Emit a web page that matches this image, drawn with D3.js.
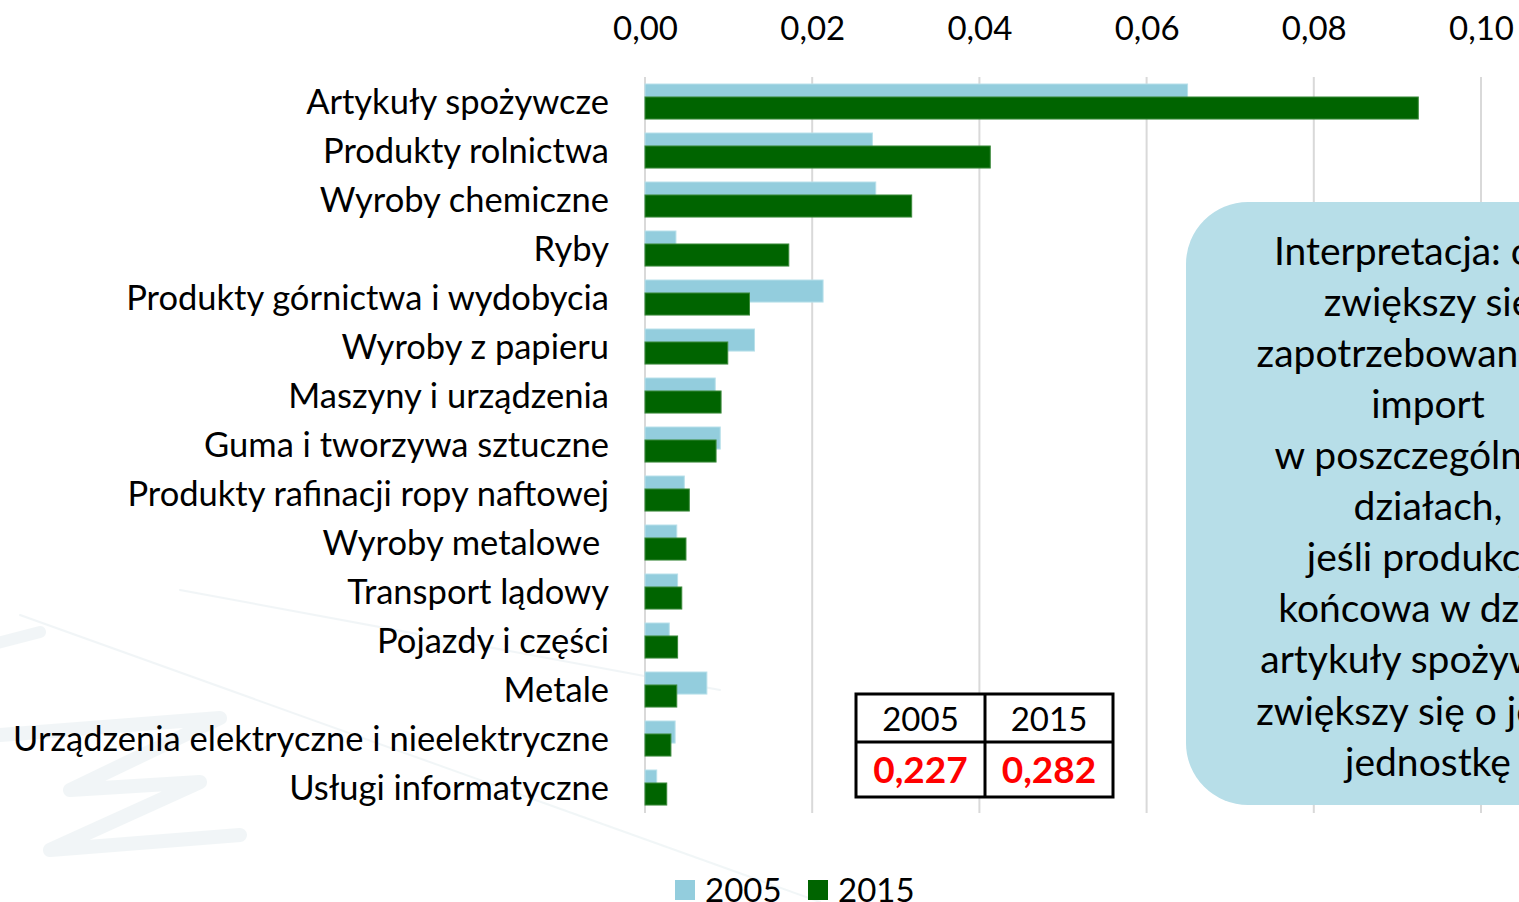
<!DOCTYPE html>
<html>
<head>
<meta charset="utf-8">
<script src="https://cdn.jsdelivr.net/npm/d3@7"></script>
<style>
  html, body { margin: 0; padding: 0; background: #fff; overflow: hidden; }
  svg { display: block; font-family: Lato, "Open Sans", sans-serif; }
</style>
</head>
<body>
<div id="chart"></div>
<script>
// categories from top to bottom
const categories = [
    "Artykuły spożywcze",
    "Produkty rolnictwa",
    "Wyroby chemiczne",
    "Ryby",
    "Produkty górnictwa i wydobycia",
    "Wyroby z papieru",
    "Maszyny i urządzenia",
    "Guma i tworzywa sztuczne",
    "Produkty rafinacji ropy naftowej",
    "Wyroby metalowe ",
    "Transport lądowy",
    "Pojazdy i części",
    "Metale",
    "Urządzenia elektryczne i nieelektryczne",
    "Usługi informatyczne"
];
const values2005 = [0.0649, 0.0272, 0.0276, 0.0037, 0.0213, 0.0131, 0.0084, 0.0090, 0.0047, 0.0038, 0.0039, 0.0029, 0.0074, 0.0036, 0.0014];
const values2015 = [0.0925, 0.0413, 0.0319, 0.0172, 0.0125, 0.0099, 0.0091, 0.0085, 0.0053, 0.0049, 0.0044, 0.0039, 0.0038, 0.0031, 0.0026];
const seriesNames = ["2005", "2015"];
const xTicks = [0, 0.02, 0.04, 0.06, 0.08, 0.10];
const totals = ["0,227", "0,282"];
const noteLines = [
    "Interpretacja: o ile",
    "zwiększy się",
    "zapotrzebowanie na",
    "import",
    "w poszczególnych",
    "działach,",
    "jeśli produkcja",
    "końcowa w dziale",
    "artykuły spożywcze",
    "zwiększy się o jedną",
    "jednostkę"
];

const width = 1519, height = 902;
const colors = { "2005": "#93cddd", "2015": "#006400" };
const fmt = d => d3.format(".2f")(d).replace(".", ",");

const svg = d3.select("#chart").append("svg")
    .attr("width", width)
    .attr("height", height);

// faint watermark in the lower left corner
const wm = svg.append("g")
    .attr("opacity", 0.12)
    .attr("stroke", "#8fb3bf")
    .attr("fill", "none")
    .attr("stroke-linecap", "round")
    .attr("stroke-linejoin", "round");
wm.append("path").attr("stroke-width", 12).attr("d", "M-10,645 L40,632");
wm.append("path").attr("stroke-width", 14).attr("d", "M0,735 L220,718 L70,790 L200,782 L50,850 L240,835");
wm.append("path").attr("stroke-width", 2).attr("d", "M20,615 L820,902");
wm.append("path").attr("stroke-width", 2).attr("d", "M180,590 L720,690");

const x = d3.scaleLinear().domain([0, 0.10]).range([645, 1481]);
const y = d3.scaleBand().domain(categories).range([77, 812]);
const bw = y.bandwidth();
const barH = bw * 0.45;
const offs = { "2005": bw * 0.143, "2015": bw * 0.408 };

// gridlines
svg.append("g").selectAll("line")
    .data(xTicks)
    .join("line")
    .attr("x1", d => x(d)).attr("x2", d => x(d))
    .attr("y1", 77).attr("y2", 813)
    .attr("stroke", "#d9d9d9")
    .attr("stroke-width", 2);

// top axis labels
const xAxis = svg.append("g")
    .attr("transform", "translate(0,28)")
    .call(d3.axisTop(x).tickValues(xTicks).tickFormat(fmt).tickSize(0).tickPadding(0));
xAxis.select(".domain").remove();
xAxis.selectAll("text")
    .attr("dy", "0.35em")
    .attr("font-size", 33)
    .attr("fill", "#000")
    .attr("font-family", "Lato, 'Open Sans', sans-serif");

// category labels
svg.append("g").selectAll("text")
    .data(categories)
    .join("text")
    .attr("x", 609)
    .attr("y", d => y(d) + bw / 2)
    .attr("dy", "0.35em")
    .attr("text-anchor", "end")
    .attr("font-size", 34.5)
    .style("white-space", "pre")
    .text(d => d);

// bars: 2005 first, 2015 overlapping on top
seriesNames.forEach(s => {
    const vals = s === "2005" ? values2005 : values2015;
    svg.append("g").selectAll("rect")
        .data(categories.map((c, i) => ({ c, v: vals[i] })))
        .join("rect")
        .attr("x", x(0))
        .attr("y", d => y(d.c) + offs[s])
        .attr("width", d => x(d.v) - x(0))
        .attr("height", barH)
        .attr("fill", colors[s])
        .attr("stroke", s === "2005" ? "#b8e0ea" : "#3c8a3c")
        .attr("stroke-width", 1);
});

// summary table
const tbl = svg.append("g");
const tx = [856, 985, 1113], ty = [694, 742, 797];
tbl.append("rect")
    .attr("x", tx[0]).attr("y", ty[0])
    .attr("width", tx[2] - tx[0]).attr("height", ty[2] - ty[0])
    .attr("fill", "#fff").attr("stroke", "#000").attr("stroke-width", 3);
tbl.append("line").attr("x1", tx[1]).attr("x2", tx[1]).attr("y1", ty[0]).attr("y2", ty[2])
    .attr("stroke", "#000").attr("stroke-width", 3);
tbl.append("line").attr("x1", tx[0]).attr("x2", tx[2]).attr("y1", ty[1]).attr("y2", ty[1])
    .attr("stroke", "#000").attr("stroke-width", 3);
seriesNames.forEach((s, i) => {
    const cx = (tx[i] + tx[i + 1]) / 2;
    tbl.append("text")
        .attr("x", cx).attr("y", (ty[0] + ty[1]) / 2 + 1)
        .attr("dy", "0.35em").attr("text-anchor", "middle")
        .attr("font-size", 33)
        .text(s);
    tbl.append("text")
        .attr("x", cx).attr("y", (ty[1] + ty[2]) / 2 + 1)
        .attr("dy", "0.35em").attr("text-anchor", "middle")
        .attr("font-size", 37).attr("font-weight", "bold")
        .attr("fill", "#ff0000")
        .text(totals[i]);
});

// interpretation note (runs past the right edge)
const note = svg.append("g");
note.append("rect")
    .attr("x", 1186).attr("y", 202)
    .attr("width", 484).attr("height", 603)
    .attr("rx", 62).attr("ry", 62)
    .attr("fill", "#b7dee8");
note.selectAll("text")
    .data(noteLines)
    .join("text")
    .attr("x", 1428)
    .attr("y", (d, i) => 251 + i * 51.1)
    .attr("dy", "0.35em")
    .attr("text-anchor", "middle")
    .attr("font-size", 39)
    .text(d => d);

// legend
const legend = svg.append("g");
const lx = [675, 808];
seriesNames.forEach((s, i) => {
    legend.append("rect")
        .attr("x", lx[i]).attr("y", 880)
        .attr("width", 20).attr("height", 20)
        .attr("fill", colors[s]);
    legend.append("text")
        .attr("x", lx[i] + 30).attr("y", 890)
        .attr("dy", "0.35em")
        .attr("font-size", 33)
        .text(s);
});
</script>
</body>
</html>
